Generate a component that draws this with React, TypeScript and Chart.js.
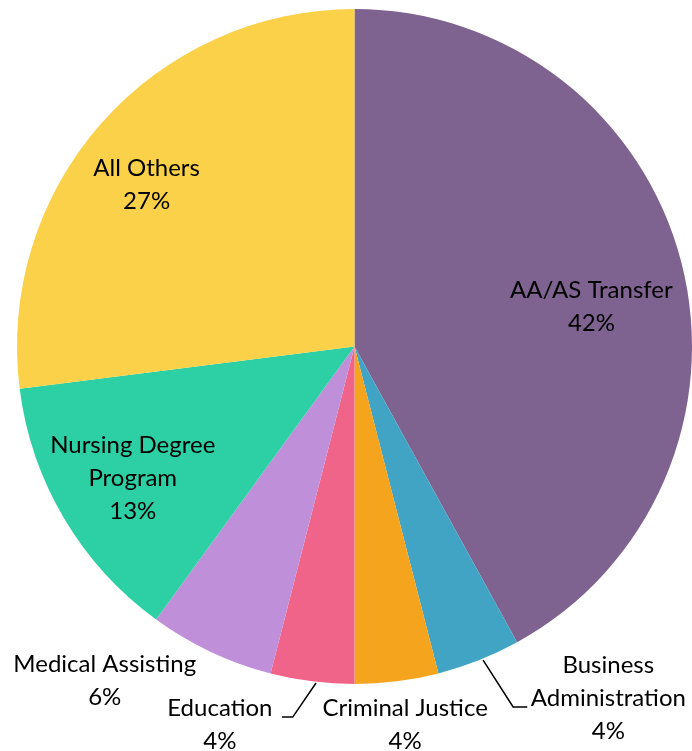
import React, { useEffect, useRef } from "react";
import { Chart, registerables } from "chart.js";

Chart.register(...registerables);

const categories = [
  "AA/AS Transfer",
  "Business Administration",
  "Criminal Justice",
  "Education",
  "Medical Assisting",
  "Nursing Degree Program",
  "All Others",
];
const values = [42, 4, 4, 4, 6, 13, 27];
const colors = ["#7E6290", "#41A4C4", "#F5A51D", "#F06489", "#BF8FD9", "#2DD0A5", "#FBD149"];

// label layout: text block centre as fractions of the radius from the pie centre
const labelLines = [
  ["AA/AS Transfer"],
  ["Business", "Administration"],
  ["Criminal Justice"],
  ["Education"],
  ["Medical Assisting"],
  ["Nursing Degree", "Program"],
  ["All Others"],
];
const labelPos: [number, number][] = [
  [0.702, -0.119],
  [0.752, 1.042],
  [0.15, 1.12],
  [-0.399, 1.12],
  [-0.74, 0.991],
  [-0.657, 0.389],
  [-0.616, -0.479],
];
const leaders: ([number, number][] | null)[] = [
  null,
  [
    [0.381, 0.929],
    [0.47, 1.068],
    [0.512, 1.068],
  ],
  null,
  [
    [-0.114, 0.997],
    [-0.183, 1.098],
    [-0.215, 1.098],
  ],
  null,
  null,
  null,
];

const FONT = "24px Lato, 'Noto Sans', sans-serif";
const LINE_H = 33;

const labelPlugin = {
  id: "pieLabels",
  afterDraw(chart: any) {
    const meta = chart.getDatasetMeta(0);
    const arc0 = meta.data[0];
    if (!arc0) return;
    const cx = arc0.x;
    const cy = arc0.y;
    const R = arc0.outerRadius;
    const ctx = chart.ctx;
    const total = values.reduce((a, b) => a + b, 0);
    ctx.save();
    ctx.font = FONT;
    ctx.fillStyle = "#000";
    ctx.textAlign = "center";
    ctx.textBaseline = "middle";
    values.forEach((v, i) => {
      const lines = [...labelLines[i], Math.round((v / total) * 100) + "%"];
      const x = cx + labelPos[i][0] * R;
      const y = cy + labelPos[i][1] * R;
      const top = y - ((lines.length - 1) * LINE_H) / 2;
      lines.forEach((t, k) => ctx.fillText(t, x, top + k * LINE_H));
      const ld = leaders[i];
      if (ld) {
        ctx.beginPath();
        ctx.strokeStyle = "#000";
        ctx.lineWidth = 1.5;
        ld.forEach((p, k) => {
          const px = cx + p[0] * R;
          const py = cy + p[1] * R;
          if (k === 0) ctx.moveTo(px, py);
          else ctx.lineTo(px, py);
        });
        ctx.stroke();
      }
    });
    ctx.restore();
  },
};

export default function App() {
  const ref = useRef<HTMLCanvasElement>(null);
  useEffect(() => {
    if (!ref.current) return;
    const chart = new Chart(ref.current, {
      type: "pie",
      data: {
        labels: categories,
        datasets: [
          {
            data: values,
            backgroundColor: colors,
            borderWidth: 0,
          },
        ],
      },
      options: {
        responsive: false,
        animation: false,
        layout: { padding: { left: 17, right: 0, top: 8, bottom: 66 } },
        plugins: {
          legend: { display: false },
          tooltip: { enabled: false },
        },
      },
      plugins: [labelPlugin],
    });
    return () => chart.destroy();
  }, []);
  return (
    <div style={{ position: "absolute", left: 0, top: 0, width: 692, height: 751, background: "#fff" }}>
      <canvas ref={ref} width={692} height={751} style={{ display: "block" }} />
    </div>
  );
}
